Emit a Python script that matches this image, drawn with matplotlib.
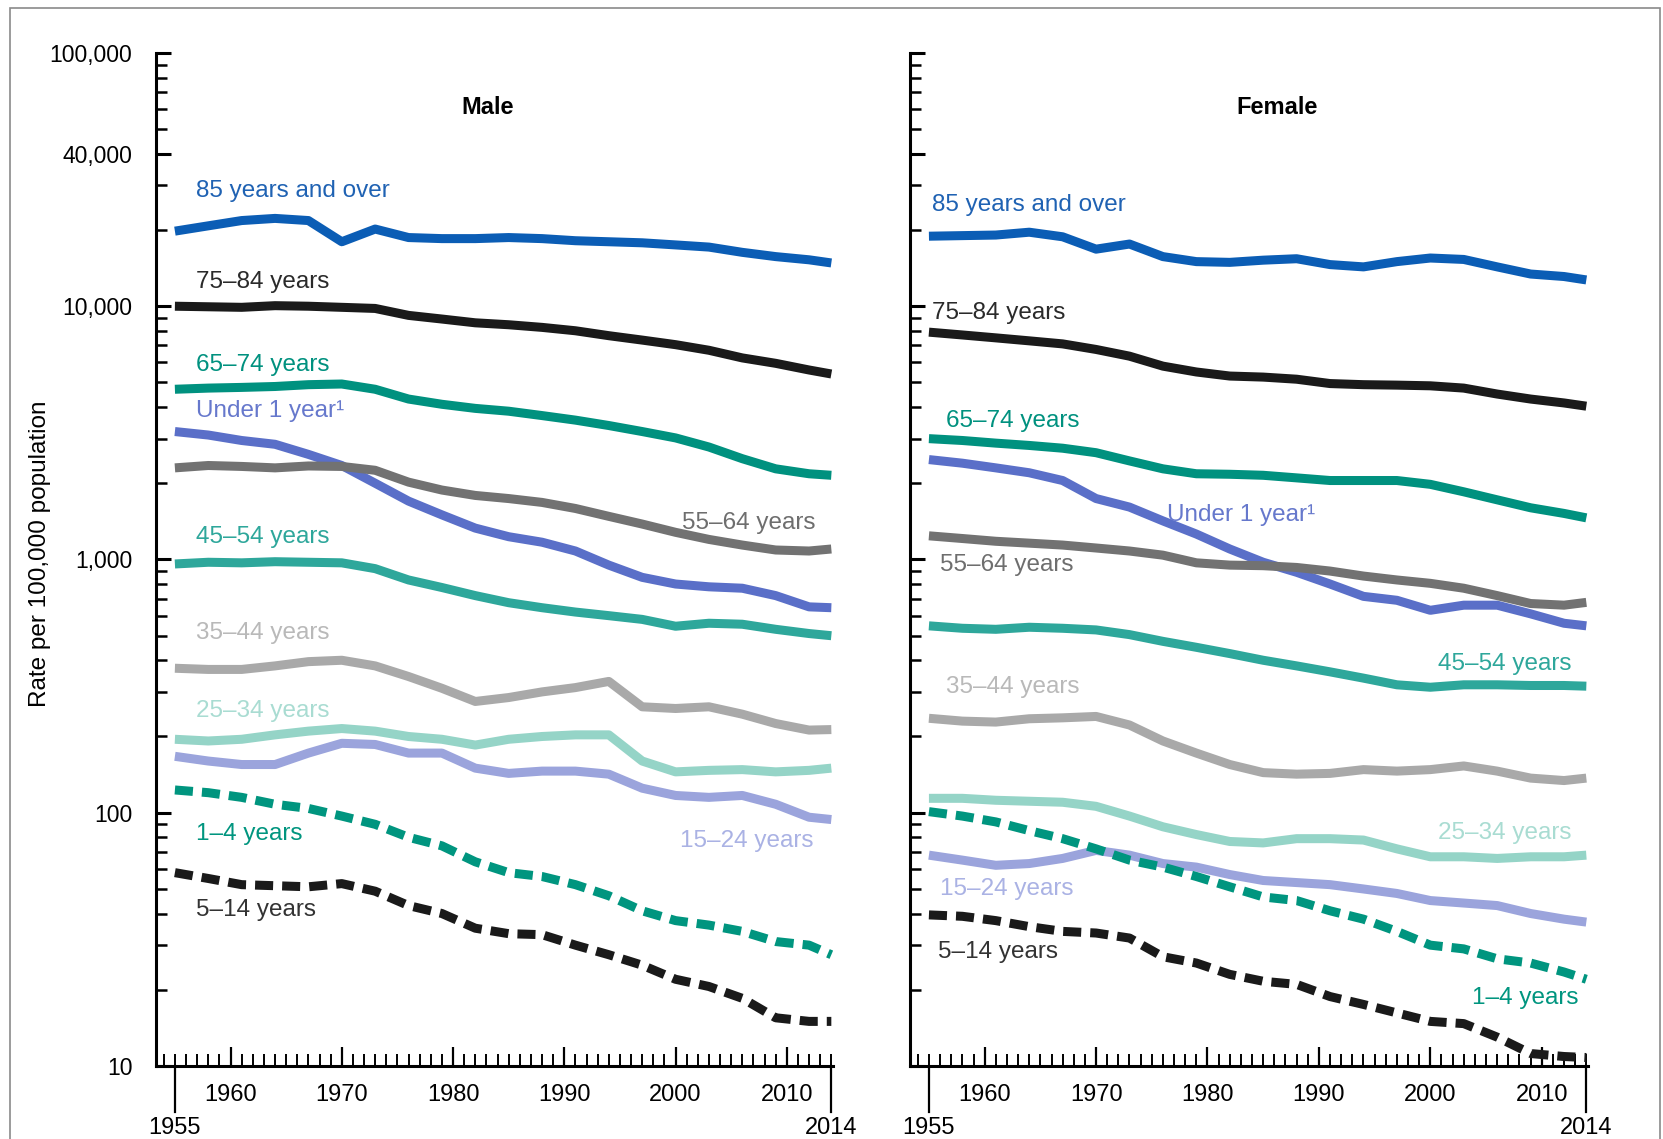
import numpy as np
import matplotlib.pyplot as plt
from matplotlib.ticker import FixedLocator, MultipleLocator, NullFormatter
from matplotlib.patches import Rectangle

plt.rcParams['font.family'] = ['Liberation Sans', 'DejaVu Sans']

# year grid used for the readings
years = [1955, 1958, 1961, 1964, 1967, 1970, 1973, 1976, 1979, 1982, 1985,
         1988, 1991, 1994, 1997, 2000, 2003, 2006, 2009, 2012, 2014]

# male death rates per 100,000 population
male_85_over = [19790, 20770, 21790, 22220, 21790, 17970, 20170, 18670, 18490, 18490, 18670,
                18490, 18140, 17970, 17800, 17460, 17120, 16320, 15700, 15250, 14820]
male_75_84 = [10000, 9950, 9900, 10050, 10000, 9900, 9800, 9200, 8900, 8600, 8450,
              8250, 8000, 7650, 7350, 7050, 6700, 6250, 5950, 5600, 5400]
male_65_74 = [4700, 4750, 4780, 4820, 4900, 4930, 4700, 4300, 4100, 3950, 3850,
              3700, 3550, 3380, 3200, 3020, 2780, 2500, 2280, 2180, 2150]
male_under_1 = [3200, 3100, 2950, 2850, 2600, 2350, 2000, 1700, 1500, 1330, 1230,
                1170, 1080, 950, 850, 800, 780, 770, 720, 650, 645]
male_55_64 = [2300, 2350, 2330, 2300, 2340, 2330, 2250, 2020, 1880, 1790, 1740,
              1680, 1590, 1480, 1380, 1280, 1200, 1140, 1090, 1080, 1100]
male_45_54 = [960, 975, 970, 980, 975, 970, 920, 830, 775, 720, 675,
              645, 620, 600, 580, 545, 560, 555, 530, 510, 500]
male_35_44 = [372, 368, 368, 380, 395, 400, 380, 345, 310, 275, 285,
              300, 312, 330, 262, 258, 262, 245, 225, 212, 213]
male_25_34 = [195, 192, 195, 203, 210, 215, 210, 200, 195, 185, 195,
              200, 203, 203, 160, 145, 147, 148, 145, 147, 150]
male_15_24 = [167, 160, 155, 155, 172, 188, 186, 172, 172, 150, 143,
              146, 146, 142, 125, 117, 115, 117, 108, 96, 94]
male_1_4 = [123, 120, 115, 108, 104, 97, 90, 80, 74, 64, 58,
            56, 52, 47, 41, 37.5, 36, 34, 31, 30, 27.5]
male_5_14 = [58, 55, 52, 51.5, 51, 52.5, 49, 43, 40, 35, 33.3,
             33, 30, 27.5, 25, 22, 20.6, 18.5, 15.5, 15, 15]

# female death rates per 100,000 population
female_85_over = [18900, 19000, 19100, 19600, 18800, 16800, 17600, 15700, 15000, 14900, 15200,
                  15400, 14600, 14300, 15000, 15500, 15300, 14300, 13400, 13100, 12700]
female_75_84 = [7900, 7700, 7500, 7300, 7100, 6750, 6350, 5800, 5500, 5300, 5250,
                5150, 4950, 4900, 4880, 4850, 4750, 4500, 4300, 4150, 4030]
female_65_74 = [3000, 2950, 2880, 2820, 2750, 2640, 2450, 2280, 2180, 2170, 2150,
                2100, 2050, 2050, 2050, 1980, 1850, 1720, 1600, 1520, 1460]
female_under_1 = [2480, 2400, 2300, 2200, 2050, 1740, 1610, 1420, 1260, 1100, 975,
                  890, 800, 715, 690, 630, 660, 660, 610, 560, 547]
female_55_64 = [1240, 1210, 1180, 1160, 1140, 1110, 1080, 1040, 970, 950, 945,
                930, 900, 860, 830, 805, 770, 720, 670, 660, 677]
female_45_54 = [547, 535, 530, 540, 535, 527, 505, 475, 450, 425, 400,
                380, 360, 340, 320, 313, 320, 320, 318, 318, 316]
female_35_44 = [236, 230, 228, 235, 237, 240, 222, 192, 172, 155, 144,
                142, 143, 148, 146, 148, 153, 146, 137, 134, 137]
female_25_34 = [114, 114, 112, 111, 110, 106, 97, 88, 82, 77, 76,
                79, 79, 78, 72, 67, 67, 66, 67, 67, 68]
female_15_24 = [68, 65, 62, 63, 66, 71, 68, 63, 61, 57, 54,
                53, 52, 50, 48, 45, 44, 43, 40, 38, 37]
female_1_4 = [101, 97, 92, 85, 79, 72, 65, 61, 56, 51, 46.5,
              45, 41, 38, 34, 30, 29, 26.5, 25.5, 23.5, 22]
female_5_14 = [39.5, 39, 37.5, 35.5, 34, 33.5, 32, 27, 25.5, 23, 21.6,
               21, 18.8, 17.5, 16.2, 15, 14.7, 13, 11.2, 10.9, 10.8]

age_groups = ["85 years and over", "75\u201384 years", "65\u201374 years", "Under 1 year\u00b9",
              "55\u201364 years", "45\u201354 years", "35\u201344 years", "25\u201334 years",
              "15\u201324 years", "1\u20134 years", "5\u201314 years"]

male_series = [male_85_over, male_75_84, male_65_74, male_under_1, male_55_64, male_45_54,
               male_35_44, male_25_34, male_15_24, male_1_4, male_5_14]
female_series = [female_85_over, female_75_84, female_65_74, female_under_1, female_55_64,
                 female_45_54, female_35_44, female_25_34, female_15_24, female_1_4, female_5_14]

line_colors = ['#0b5db5', '#1a1a1a', '#00917f', '#5a6fc8', '#727272', '#2ea79b',
               '#a9a9a9', '#95d4c7', '#9ba4dc', '#00957f', '#1a1a1a']
text_colors = ['#1f62b3', '#2a2a2a', '#00917f', '#6678cc', '#6e6e6e', '#2ea79b',
               '#b9b9b9', '#a9dcd2', '#aab2e4', '#00957f', '#333333']
dashed = [False] * 9 + [True, True]

# label anchors: (year, rate, ha)
male_labels = [(1956.9, 28500, 'left'), (1956.9, 12450, 'left'), (1956.9, 5870, 'left'),
               (1956.9, 3840, 'left'), (2012.6, 1395, 'right'), (1956.9, 1230, 'left'),
               (1956.9, 512, 'left'), (1956.9, 253, 'left'), (2012.4, 77.3, 'right'),
               (1956.9, 82.5, 'left'), (1956.9, 41.3, 'left')]
female_labels = [(1955.3, 25180, 'left'), (1955.3, 9415, 'left'), (1956.5, 3520, 'left'),
                 (1976.4, 1492, 'left'), (1956.0, 948, 'left'), (2012.7, 387, 'right'),
                 (1956.5, 313, 'left'), (2012.7, 83.4, 'right'), (1955.95, 50.1, 'left'),
                 (2013.3, 18.5, 'right'), (1955.8, 28.1, 'left')]

fig = plt.figure(figsize=(16.63, 11.39), dpi=100)
fig.patch.set_facecolor('white')
fig.add_artist(Rectangle((0.006, -0.02), 0.992, 1.013, transform=fig.transFigure,
                         fill=False, edgecolor='#8a8a8a', linewidth=1.2))

ax_m = fig.add_axes([0.0938, 0.0641, 0.4071, 0.8894])
ax_f = fig.add_axes([0.5472, 0.0641, 0.4077, 0.8894])

for ax, series, labels, title in [(ax_m, male_series, male_labels, 'Male'),
                                  (ax_f, female_series, female_labels, 'Female')]:
    for vals, lc, tc, dsh, name, (lx, ly, ha) in zip(series, line_colors, text_colors,
                                                    dashed, age_groups, labels):
        if dsh:
            ax.plot(years, vals, color=lc, lw=6.5, dashes=(2.0, 1.0),
                    dash_capstyle='butt', solid_joinstyle='round')
        else:
            ax.plot(years, vals, color=lc, lw=6.5, solid_capstyle='butt',
                    solid_joinstyle='round')
        ax.text(lx, ly, name, color=tc, fontsize=17.5, ha=ha, va='center')

    ax.set_yscale('log')
    ax.set_ylim(10, 100000)
    ax.set_xlim(1953.3, 2014.15)
    ax.text(1983.1 if title == 'Male' else 1986.2, 61000, title, fontsize=17,
            fontweight='bold', ha='center', va='center')

    for s in ['top', 'right']:
        ax.spines[s].set_visible(False)
    for s in ['left', 'bottom']:
        ax.spines[s].set_linewidth(2.2)

    ax.xaxis.set_major_locator(FixedLocator([1960, 1970, 1980, 1990, 2000, 2010]))
    ax.xaxis.set_minor_locator(MultipleLocator(1))
    ax.tick_params(axis='x', which='major', direction='in', length=14, width=1.6,
                   labelsize=17, pad=13)
    ax.tick_params(axis='x', which='minor', direction='in', length=9, width=1.4)

    yt = [10, 100, 1000, 10000, 40000, 100000]
    ax.yaxis.set_major_locator(FixedLocator(yt))
    minor = [m * 10 ** e for e in range(1, 5) for m in range(2, 10)]
    ax.yaxis.set_minor_locator(FixedLocator(minor))
    ax.yaxis.set_minor_formatter(NullFormatter())
    ax.tick_params(axis='y', which='major', direction='in', length=11, width=2.2,
                   labelsize=16.5, pad=17)
    ax.tick_params(axis='y', which='minor', direction='in', length=8, width=1.8)

    # long end ticks for 1955 and 2014
    for yr in (1955, 2014):
        ax.plot([yr, yr], [0, -0.045], transform=ax.get_xaxis_transform(),
                color='black', lw=1.6, clip_on=False)
        ax.text(yr, -0.061, str(yr), transform=ax.get_xaxis_transform(),
                fontsize=17, ha='center', va='center')

ax_m.set_yticklabels(['10', '100', '1,000', '10,000', '40,000', '100,000'])
ax_f.set_yticklabels([])

fig.text(0.024, 0.514, 'Rate per 100,000 population', rotation=90, fontsize=17.5,
         ha='center', va='center')

fig.savefig('out.png', dpi=100, facecolor='white')
